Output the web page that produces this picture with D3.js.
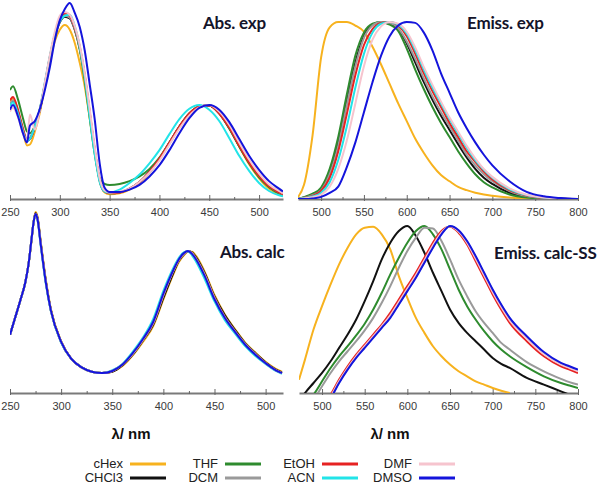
<!DOCTYPE html>
<html><head><meta charset="utf-8">
<script src="https://cdn.jsdelivr.net/npm/d3@7"></script>
<style>body{margin:0;background:#fff}svg{display:block}</style>
</head><body>
<svg id="c" width="600" height="486"></svg>
<script>
const solvents = ["cHex","CHCl3","THF","DCM","EtOH","ACN","DMF","DMSO"];
const colors   = ["#F7B21E","#111111","#2E8B2E","#9A9A9A","#E62222","#22E4E8","#F6C4CE","#1414DC"];

// ---------- Abs. exp ----------
const absExpNm = [250,253,258,263,267,270,275,280,285,290,295,300,305,310,315,320,325,330,335,340,345,350,360,370,380,390,400,410,420,430,440,450,460,470,480,490,500,510,520,524];
const absExp_cHex  = [1.04,1.07,0.93,0.72,0.57,0.58,0.72,0.92,1.20,1.47,1.68,1.80,1.85,1.80,1.66,1.45,1.20,0.86,0.50,0.19,0.07,0.05,0.06,0.10,0.17,0.28,0.42,0.59,0.76,0.90,0.98,0.995,0.92,0.76,0.56,0.37,0.22,0.11,0.05,0.035];
const absExp_CHCl3 = [1.00,1.04,0.92,0.73,0.62,0.64,0.77,0.95,1.22,1.50,1.73,1.88,1.94,1.92,1.80,1.60,1.30,0.91,0.52,0.20,0.08,0.06,0.07,0.11,0.18,0.29,0.43,0.60,0.77,0.91,0.985,0.995,0.91,0.755,0.565,0.385,0.24,0.13,0.065,0.045];
const absExp_THF   = [1.16,1.20,1.06,0.86,0.72,0.70,0.78,0.95,1.22,1.51,1.75,1.90,1.955,1.94,1.81,1.59,1.26,0.86,0.48,0.22,0.16,0.15,0.16,0.19,0.24,0.32,0.44,0.60,0.77,0.91,0.985,0.995,0.91,0.75,0.56,0.38,0.23,0.125,0.06,0.045];
const absExp_DCM   = [1.01,1.05,0.93,0.74,0.63,0.65,0.78,0.96,1.23,1.51,1.74,1.89,1.95,1.93,1.81,1.61,1.31,0.92,0.52,0.20,0.08,0.06,0.07,0.11,0.18,0.28,0.42,0.59,0.76,0.90,0.98,1.00,0.92,0.77,0.58,0.40,0.25,0.14,0.07,0.05];
const absExp_EtOH  = [1.05,1.085,0.95,0.75,0.63,0.64,0.76,0.95,1.22,1.50,1.74,1.90,1.975,1.95,1.82,1.62,1.32,0.93,0.53,0.20,0.08,0.065,0.07,0.11,0.18,0.29,0.43,0.60,0.77,0.91,0.985,0.995,0.91,0.76,0.57,0.39,0.245,0.135,0.07,0.05];
const absExp_ACN   = [0.99,1.03,0.91,0.72,0.62,0.64,0.77,0.96,1.24,1.52,1.75,1.89,1.95,1.96,1.84,1.62,1.30,0.88,0.48,0.18,0.08,0.07,0.10,0.17,0.26,0.38,0.52,0.69,0.85,0.96,1.00,0.95,0.83,0.65,0.46,0.30,0.17,0.085,0.04,0.03];
const absExp_DMF   = [0.93,0.97,0.87,0.70,0.62,0.90,0.74,0.95,1.24,1.53,1.78,1.95,1.99,1.96,1.84,1.64,1.34,0.96,0.56,0.22,0.09,0.07,0.08,0.11,0.18,0.28,0.41,0.58,0.75,0.89,0.975,1.00,0.93,0.79,0.60,0.42,0.27,0.155,0.085,0.06];
const absExp_DMSO  = [0.95,1.00,0.88,0.70,0.60,0.78,0.83,0.96,1.16,1.40,1.69,1.90,2.02,2.085,1.98,1.83,1.58,1.22,0.85,0.38,0.12,0.075,0.075,0.10,0.15,0.24,0.36,0.52,0.70,0.86,0.97,1.00,0.95,0.82,0.64,0.46,0.31,0.19,0.11,0.08];

// ---------- Emiss. exp ----------
const emExpNm = [473,480,490,500,510,520,530,540,550,560,570,580,590,600,610,620,630,640,650,660,670,680,690,700,720,740,760,780,800];
const emExp_cHex  = [0.01,0.08,0.36,0.80,0.97,1.00,1.00,0.98,0.945,0.86,0.76,0.65,0.54,0.44,0.34,0.26,0.19,0.135,0.10,0.068,0.05,0.035,0.025,0.018,0.008,0.003,0.001,0,0];
const emExp_CHCl3 = [0,0.008,0.025,0.055,0.15,0.32,0.55,0.77,0.92,0.985,1.00,0.99,0.96,0.88,0.77,0.66,0.56,0.47,0.39,0.31,0.235,0.17,0.12,0.085,0.035,0.012,0.004,0.001,0];
const emExp_THF   = [0,0.01,0.03,0.065,0.17,0.35,0.59,0.81,0.94,0.99,1.00,0.985,0.95,0.85,0.73,0.62,0.52,0.43,0.35,0.27,0.20,0.14,0.095,0.065,0.025,0.008,0.003,0.001,0];
const emExp_DCM   = [0,0.007,0.022,0.05,0.14,0.30,0.53,0.75,0.91,0.98,1.00,0.995,0.965,0.89,0.79,0.68,0.58,0.49,0.41,0.33,0.25,0.19,0.14,0.10,0.045,0.017,0.006,0.002,0];
const emExp_EtOH  = [0,0.005,0.018,0.045,0.12,0.27,0.48,0.70,0.87,0.96,0.995,1.00,0.98,0.92,0.82,0.71,0.61,0.52,0.43,0.35,0.27,0.21,0.155,0.11,0.05,0.02,0.007,0.002,0];
const emExp_ACN   = [0,0.004,0.014,0.035,0.095,0.22,0.41,0.63,0.82,0.94,0.99,1.00,0.985,0.935,0.84,0.73,0.63,0.54,0.45,0.37,0.29,0.22,0.165,0.12,0.055,0.022,0.008,0.002,0];
const emExp_DMF   = [0,0.003,0.01,0.025,0.07,0.17,0.33,0.54,0.75,0.90,0.975,1.00,0.99,0.945,0.855,0.745,0.645,0.55,0.46,0.38,0.30,0.23,0.17,0.125,0.06,0.024,0.009,0.003,0];
const emExp_DMSO  = [0,0,0.003,0.012,0.035,0.07,0.18,0.32,0.49,0.66,0.81,0.92,0.98,1.00,0.995,0.94,0.84,0.71,0.60,0.49,0.40,0.32,0.25,0.19,0.10,0.04,0.015,0.005,0];

// ---------- Abs. calc ----------
const absCalcNm = [250,255,260,265,268,271,273,275,277,280,285,290,300,310,320,330,340,350,360,370,380,390,400,410,415,420,424,428,432,440,450,460,470,480,490,500,510,516];
const absCalc_cHex  = [0.41,0.53,0.65,0.78,0.90,1.07,1.20,1.275,1.24,1.07,0.80,0.59,0.365,0.24,0.18,0.15,0.14,0.15,0.19,0.265,0.36,0.47,0.66,0.84,0.92,0.97,0.995,0.995,0.965,0.86,0.69,0.555,0.45,0.355,0.285,0.22,0.17,0.15];
const absCalc_CHCl3 = [0.41,0.53,0.65,0.78,0.90,1.075,1.20,1.265,1.23,1.06,0.79,0.585,0.36,0.24,0.18,0.15,0.14,0.15,0.195,0.27,0.37,0.48,0.67,0.85,0.93,0.975,0.998,0.99,0.955,0.85,0.68,0.55,0.445,0.35,0.28,0.215,0.165,0.145];
const absCalc_THF   = [0.41,0.53,0.65,0.78,0.90,1.08,1.20,1.26,1.225,1.055,0.785,0.58,0.36,0.24,0.18,0.15,0.14,0.155,0.20,0.275,0.375,0.49,0.69,0.865,0.935,0.98,1.00,0.985,0.945,0.84,0.67,0.535,0.435,0.345,0.275,0.21,0.16,0.14];
const absCalc_DCM   = [0.41,0.53,0.65,0.78,0.90,1.08,1.20,1.26,1.225,1.055,0.785,0.58,0.36,0.24,0.18,0.15,0.14,0.155,0.20,0.275,0.374,0.488,0.688,0.864,0.934,0.979,1.00,0.986,0.946,0.841,0.671,0.536,0.436,0.346,0.276,0.211,0.161,0.141];
const absCalc_EtOH  = [0.41,0.53,0.65,0.78,0.90,1.08,1.20,1.26,1.222,1.052,0.782,0.58,0.36,0.24,0.18,0.15,0.14,0.155,0.20,0.277,0.377,0.493,0.693,0.867,0.937,0.982,1.00,0.983,0.943,0.837,0.667,0.533,0.433,0.343,0.273,0.21,0.16,0.14];
const absCalc_ACN   = [0.41,0.53,0.65,0.78,0.90,1.08,1.20,1.255,1.215,1.04,0.77,0.575,0.355,0.24,0.18,0.15,0.14,0.16,0.205,0.29,0.39,0.52,0.72,0.885,0.95,0.99,0.998,0.97,0.925,0.81,0.645,0.515,0.42,0.33,0.26,0.205,0.155,0.135];
const absCalc_DMF   = [0.41,0.53,0.65,0.78,0.90,1.08,1.20,1.26,1.222,1.053,0.783,0.58,0.36,0.24,0.18,0.15,0.14,0.155,0.20,0.278,0.378,0.495,0.695,0.868,0.938,0.983,1.00,0.982,0.942,0.835,0.665,0.532,0.432,0.342,0.272,0.21,0.16,0.14];
const absCalc_DMSO  = [0.41,0.53,0.65,0.78,0.90,1.08,1.20,1.26,1.22,1.05,0.78,0.58,0.36,0.24,0.18,0.15,0.14,0.155,0.20,0.28,0.38,0.50,0.70,0.87,0.94,0.985,1.00,0.98,0.94,0.83,0.66,0.53,0.43,0.34,0.27,0.21,0.16,0.14];

// ---------- Emiss. calc-SS ----------
const emCalcNm = [473,480,490,500,510,520,530,540,550,560,570,580,590,600,610,620,630,640,650,660,670,680,690,700,710,720,740,760,780,790,800];
const emCalc_cHex  = [0.08,0.20,0.38,0.52,0.65,0.77,0.87,0.95,0.99,0.995,0.95,0.86,0.70,0.57,0.45,0.36,0.28,0.22,0.17,0.13,0.10,0.07,0.05,0.03,0.013,0.0,null,null,null,null,null];
const emCalc_CHCl3 = [-0.05,0.0,0.06,0.12,0.19,0.27,0.35,0.44,0.55,0.67,0.80,0.90,0.97,1.00,0.94,0.84,0.72,0.61,0.50,0.42,0.36,0.31,0.26,0.21,0.175,0.15,0.09,0.05,0.01,-0.01,null];
const emCalc_THF   = [null,-0.06,-0.01,0.07,0.15,0.22,0.28,0.345,0.415,0.50,0.60,0.71,0.81,0.90,0.97,1.00,0.95,0.86,0.74,0.62,0.52,0.44,0.37,0.31,0.26,0.22,0.155,0.10,0.06,0.045,0.03];
const emCalc_DCM   = [null,-0.09,-0.04,0.04,0.12,0.19,0.25,0.31,0.375,0.45,0.54,0.64,0.75,0.85,0.93,0.99,0.985,0.91,0.80,0.68,0.58,0.49,0.42,0.36,0.30,0.26,0.185,0.13,0.085,0.065,0.05];
const emCalc_EtOH  = [null,null,null,-0.07,-0.01,0.08,0.16,0.23,0.29,0.35,0.41,0.48,0.56,0.64,0.72,0.81,0.90,0.97,0.995,0.96,0.89,0.79,0.69,0.59,0.50,0.42,0.31,0.22,0.16,0.14,0.12];
const emCalc_ACN   = [null,null,null,-0.08,-0.025,0.065,0.145,0.215,0.275,0.335,0.395,0.455,0.535,0.615,0.695,0.785,0.875,0.955,1.00,0.97,0.905,0.815,0.715,0.615,0.525,0.445,0.335,0.24,0.175,0.155,0.135];
const emCalc_DMF   = [null,null,null,-0.075,-0.02,0.07,0.15,0.22,0.28,0.34,0.40,0.465,0.545,0.625,0.705,0.795,0.885,0.96,0.998,0.968,0.90,0.805,0.705,0.605,0.515,0.435,0.325,0.232,0.17,0.15,0.13];
const emCalc_DMSO  = [null,null,null,-0.08,-0.03,0.06,0.14,0.21,0.27,0.33,0.39,0.45,0.53,0.61,0.69,0.78,0.87,0.95,1.00,0.975,0.91,0.82,0.72,0.62,0.53,0.45,0.34,0.245,0.18,0.16,0.14];

// ---------- ticks & texts ----------
const absMajor = [250,300,350,400,450,500];
const absMinor = [275,325,375,425,475];
const emMajor  = [500,550,600,650,700,750,800];
const emMinor  = [525,575,625,675,725,775];
const titles   = ["Abs. exp","Emiss. exp","Abs. calc","Emiss. calc-SS"];
const xLabel   = "λ/ nm";

const svg = d3.select("#c");

const panels = [
  {nm:absExpNm,  data:[absExp_cHex,absExp_CHCl3,absExp_THF,absExp_DCM,absExp_EtOH,absExp_ACN,absExp_DMF,absExp_DMSO],
   dom:[250,524], rng:[10,283], y0:199, unit:94, top:-4, major:absMajor, minor:absMinor, title:titles[0], tx:203, ty:29},
  {nm:emExpNm,   data:[emExp_cHex,emExp_CHCl3,emExp_THF,emExp_DCM,emExp_EtOH,emExp_ACN,emExp_DMF,emExp_DMSO],
   dom:[473,800], rng:[298,578], y0:199, unit:177, top:-4, major:emMajor, minor:emMinor, title:titles[1], tx:467, ty:29},
  {nm:absCalcNm, data:[absCalc_cHex,absCalc_CHCl3,absCalc_THF,absCalc_DCM,absCalc_EtOH,absCalc_ACN,absCalc_DMF,absCalc_DMSO],
   dom:[250,517], rng:[10,283], y0:393, unit:142, top:205, major:absMajor, minor:absMinor, title:titles[2], tx:220, ty:258},
  {nm:emCalcNm,  data:[emCalc_cHex,emCalc_CHCl3,emCalc_THF,emCalc_DCM,emCalc_EtOH,emCalc_ACN,emCalc_DMF,emCalc_DMSO],
   dom:[473,800], rng:[299,578], y0:393, unit:167, top:215, major:emMajor, minor:emMinor, title:titles[3], tx:494, ty:259}
];

panels.forEach((p, pi) => {
  const x = d3.scaleLinear().domain(p.dom).range(p.rng);
  const y = d3.scaleLinear().domain([0,1]).range([p.y0, p.y0 - p.unit]);
  const clipId = "clip" + pi;
  svg.append("clipPath").attr("id", clipId).append("rect")
    .attr("x", p.rng[0]).attr("y", p.top)
    .attr("width", p.rng[1]-p.rng[0]).attr("height", p.y0 - p.top);

  // axis
  const ax = svg.append("g").attr("transform", `translate(0,${p.y0})`)
    .call(d3.axisBottom(x).tickValues(p.major).tickSizeInner(-4).tickSizeOuter(0).tickPadding(9).tickFormat(d3.format("d")));
  ax.select(".domain").attr("stroke", "#7a7a7a").attr("stroke-width", 2);
  ax.selectAll(".tick line").attr("y1", 2).attr("y2", -4).attr("stroke", "#666").attr("stroke-width", 1);
  ax.selectAll(".tick text").attr("font-family", "'Liberation Sans', Arial, sans-serif")
    .attr("font-size", 11).attr("fill", "#3a3a3a");
  const mx = svg.append("g").attr("transform", `translate(0,${p.y0})`)
    .call(d3.axisBottom(x).tickValues(p.minor).tickSizeInner(-2).tickSizeOuter(0).tickFormat(""));
  mx.select(".domain").remove();
  mx.selectAll(".tick line").attr("y1", 1).attr("y2", -2).attr("stroke", "#666");

  // curves
  const g = svg.append("g").attr("clip-path", `url(#${clipId})`);
  const line = d3.line()
    .defined(d => d[1] !== null)
    .x(d => x(d[0])).y(d => y(d[1]))
    .curve(d3.curveMonotoneX);
  p.data.forEach((vals, si) => {
    const pts = p.nm.map((n, i) => [n, vals[i]]);
    g.append("path").attr("d", line(pts))
      .attr("fill", "none").attr("stroke", colors[si])
      .attr("stroke-width", 2).attr("stroke-linejoin", "round");
  });

  // title
  svg.append("text").attr("x", p.tx).attr("y", p.ty).text(p.title)
    .attr("font-family", "Lato, 'Open Sans', sans-serif").attr("font-weight", "bold")
    .attr("font-size", 17).attr("fill", "#14142a")
    .style("letter-spacing", "-0.2px");
});

// x labels
[131, 390].forEach(cx => {
  svg.append("text").attr("x", cx).attr("y", 439).attr("text-anchor", "middle")
    .text(xLabel).attr("font-family", "'Liberation Sans', Arial, sans-serif")
    .attr("font-weight", "bold").attr("font-size", 15).attr("fill", "#111");
});

// legend
const colLabelX = [123, 218, 315, 412];
const rowY = [464, 478];
solvents.forEach((s, i) => {
  const c = Math.floor(i / 2), r = i % 2;
  const lx = colLabelX[c];
  svg.append("text").attr("x", lx).attr("y", rowY[r]).attr("dy", "0.33em")
    .attr("text-anchor", "end").text(s)
    .attr("font-family", "'Liberation Sans', Arial, sans-serif")
    .attr("font-size", 13).attr("fill", "#222");
  svg.append("line").attr("x1", lx + 7).attr("x2", lx + 43)
    .attr("y1", rowY[r]).attr("y2", rowY[r])
    .attr("stroke", colors[i]).attr("stroke-width", 3);
});
</script>
</body></html>
